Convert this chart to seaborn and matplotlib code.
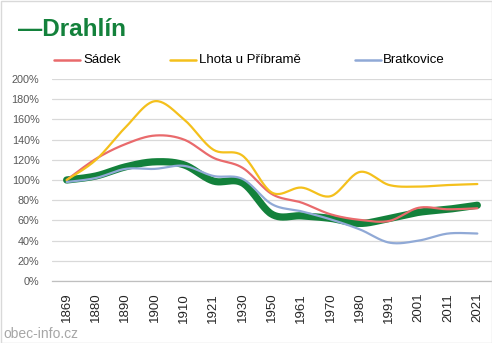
import numpy as np
import pandas as pd
import matplotlib
matplotlib.use("Agg")
import matplotlib.pyplot as plt
from matplotlib.lines import Line2D
from matplotlib.patches import Rectangle
import seaborn as sns

years = ["1869", "1880", "1890", "1900", "1910", "1921", "1930", "1950",
         "1961", "1970", "1980", "1991", "2001", "2011", "2021"]
drahlin = [100, 104, 113, 118, 115, 99, 97, 66, 64.5, 62, 57, 62, 68, 71, 75]
sadek = [100, 121, 135.5, 144, 140, 122, 112, 86, 77.7, 66, 60.5, 59.5, 72.5, 71, 72]
lhota = [100, 120, 152, 178, 160, 130, 124, 87.5, 92.5, 84, 108, 95, 93.5, 95, 96]
bratkovice = [98, 102, 111, 111, 114, 104, 101, 76, 69, 61, 51, 38, 40, 47, 47]
yticks = [0, 20, 40, 60, 80, 100, 120, 140, 160, 180, 200]

series_names = ["Drahlín", "Sádek", "Lhota u Příbramě", "Bratkovice"]
series_vals = [drahlin, sadek, lhota, bratkovice]
colors = {"Drahlín": "#13813B", "Sádek": "#E96A6C",
          "Lhota u Příbramě": "#F4C01C", "Bratkovice": "#90A9D6"}
widths = {"Drahlín": 5.2, "Sádek": 1.6, "Lhota u Příbramě": 1.6, "Bratkovice": 1.6}


def smooth(xs, ys, n=24):
    """Excel-like smoothed rendering (Catmull-Rom Bezier) of the data."""
    xs = np.asarray(xs, float)
    ys = np.asarray(ys, float)
    P = np.column_stack([xs, ys])
    out = []
    for i in range(len(P) - 1):
        p0 = P[i - 1] if i > 0 else P[i]
        p1 = P[i]
        p2 = P[i + 1]
        p3 = P[i + 2] if i + 2 < len(P) else P[i + 1]
        c1 = p1 + (p2 - p0) / 6.0
        c2 = p2 - (p3 - p1) / 6.0
        t = np.linspace(0, 1, n, endpoint=(i == len(P) - 2))[:, None]
        seg = ((1 - t) ** 3) * p1 + 3 * ((1 - t) ** 2) * t * c1 + 3 * (1 - t) * t ** 2 * c2 + t ** 3 * p2
        out.append(seg)
    arr = np.vstack(out)
    return arr[:, 0], arr[:, 1]


sns.set_style("white")
plt.rcParams["font.family"] = ["Liberation Sans", "DejaVu Sans"]

fig = plt.figure(figsize=(4.92, 3.43), dpi=100)
ax = fig.add_axes([52 / 492, (343 - 281) / 343, 1 - 52 / 492, (281 - 79) / 343])

idx = np.arange(len(years))
frames = []
for name, vals in zip(series_names, series_vals):
    sx, sy = smooth(idx, vals)
    frames.append(pd.DataFrame({"x": sx, "y": sy, "obec": name, "order": np.arange(len(sx))}))
df = pd.concat(frames, ignore_index=True)

for z, name in enumerate(series_names):
    sub = df[df["obec"] == name]
    sns.lineplot(data=sub, x="x", y="y", sort=False, estimator=None, ax=ax,
                 color=colors[name], linewidth=widths[name], zorder=3 + z,
                 solid_capstyle="round", legend=False)

ax.set_xlim(-0.5, len(years) - 0.5)
ax.set_ylim(0, 200)
ax.set_yticks(yticks)
ax.set_yticklabels([f"{v}%" for v in yticks], fontsize=7.8, color="#595959")
ax.set_xticks(idx)
ax.set_xticklabels(years, rotation=90, fontsize=9.5, color="#262626")
ax.set_xticks(np.arange(-0.5, len(years)), minor=True)
ax.tick_params(axis="x", which="major", length=0, pad=8.5)
ax.tick_params(axis="x", which="minor", length=5, color="#BFBFBF", width=0.8)
ax.tick_params(axis="y", length=0, pad=9)
ax.set_xlabel("")
ax.set_ylabel("")
ax.grid(axis="y", color="#D9D9D9", linewidth=0.9)
ax.grid(axis="x", visible=False)
ax.set_axisbelow(True)
for s in ["top", "right", "left"]:
    ax.spines[s].set_visible(False)
ax.spines["bottom"].set_color("#BFBFBF")
ax.spines["bottom"].set_linewidth(0.9)
ax.spines["bottom"].set_zorder(2)

# title
fig.text(18 / 492, 1 - 36 / 343, "—Drahlín", fontsize=17.5, fontweight="bold",
         color="#13813B", ha="left", va="baseline")

# legend
legend_items = [("Sádek", 54, 83), ("Lhota u Příbramě", 170, 199), ("Bratkovice", 355, 383)]
for name, lx, tx in legend_items:
    yy = 1 - 60 / 343
    fig.add_artist(Line2D([lx / 492, (lx + 26) / 492], [yy, yy], color=colors[name],
                          linewidth=1.8, transform=fig.transFigure))
    fig.text(tx / 492, yy, name, fontsize=9.5, color="#000000", ha="left", va="center")

# watermark
fig.text(3 / 492, 1 - 338 / 343, "obec-info.cz", fontsize=10, color="#A6A6A6",
         ha="left", va="baseline")

# outer border
fig.add_artist(Rectangle((0.5 / 492, 0.5 / 343), 1 - 1 / 492, 1 - 1 / 343,
                         transform=fig.transFigure, fill=False,
                         edgecolor="#D9D9D9", linewidth=1.0))

fig.savefig("out.png", dpi=100)
